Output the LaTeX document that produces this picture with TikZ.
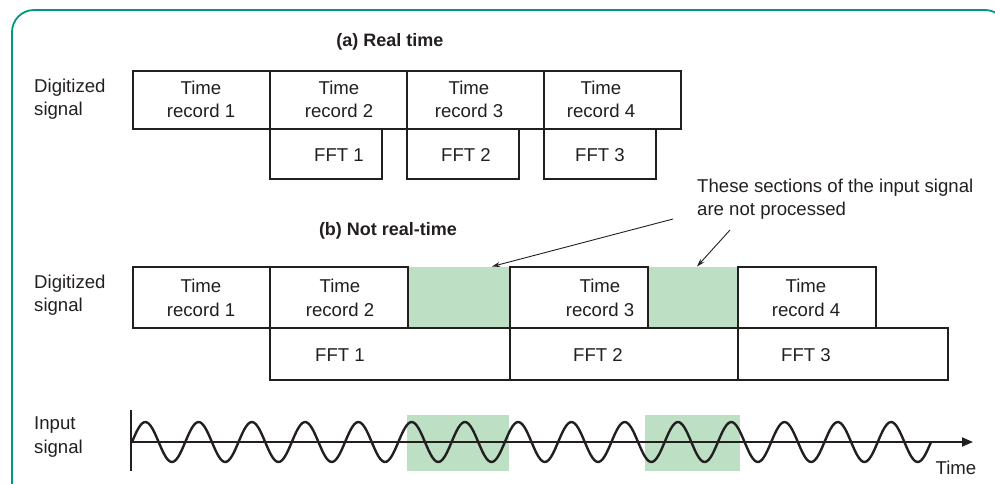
\documentclass[tikz,border=0pt]{standalone}
\usepackage{fontspec}
\setmainfont{Liberation Sans}
\usetikzlibrary{arrows.meta}
\definecolor{frameteal}{HTML}{00997F}
\definecolor{skipgreen}{HTML}{BDE0C5}
\definecolor{ink}{HTML}{231F20}
\tikzset{
  txt/.style={font=\fontsize{18.6}{23.5}\selectfont, text=ink, align=center, inner sep=0pt},
  ttl/.style={font=\fontsize{18}{23}\selectfont\bfseries, text=ink, inner sep=0pt},
  sidelbl/.style={font=\fontsize{18.6}{23.5}\selectfont, text=ink, align=left, anchor=west, inner sep=0pt},
  box/.style={draw=ink, line width=1.6pt, rectangle, inner sep=0pt},
  gap/.style={fill=skipgreen, draw=none, rectangle, inner sep=0pt},
  note/.style={draw=ink, line width=0.9pt, -{Stealth[length=8pt,width=5pt]}},
  wave/.style={draw=ink, line width=2.4pt},
  axisline/.style={draw=ink, line width=1.8pt},
}
\begin{document}
\begin{tikzpicture}[x=1pt,y=-1pt]
\useasboundingbox (0,0) rectangle (995,483);
\begin{scope}
\clip (0,0) rectangle (995,483);
\draw[frameteal, line width=1.8pt, rounded corners=22pt] (12,10) rectangle (1007,505);
\end{scope}

% (a) Real time
\node[ttl] (ta) at (390,42) {(a) Real time};
\node[sidelbl] (dla) at (34,99) {Digitized\\signal};
\node[box, minimum width=137pt, minimum height=58pt] (a1) at (201.5,100) {};
\node[box, minimum width=137pt, minimum height=58pt] (a2) at (338.5,100) {};
\node[box, minimum width=137pt, minimum height=58pt] (a3) at (475.5,100) {};
\node[box, minimum width=137pt, minimum height=58pt] (a4) at (612.5,100) {};
\node[txt] (a1t) at (201,99.5) {Time\\record 1};
\node[txt] (a2t) at (339,99.5) {Time\\record 2};
\node[txt] (a3t) at (469,99.5) {Time\\record 3};
\node[txt] (a4t) at (601,99.5) {Time\\record 4};
\node[box, minimum width=112pt, minimum height=50pt] (fa1) at (326,154) {};
\node[box, minimum width=112pt, minimum height=50pt] (fa2) at (463,154) {};
\node[box, minimum width=112pt, minimum height=50pt] (fa3) at (600,154) {};
\node[txt] (fa1t) at (339,155) {FFT 1};
\node[txt] (fa2t) at (466,155) {FFT 2};
\node[txt] (fa3t) at (600,155) {FFT 3};

% (b) Not real-time
\node[ttl] (tb) at (388,231) {(b) Not real-time};
\node[sidelbl] (dlb) at (34,295) {Digitized\\signal};
\node[gap, minimum width=102pt, minimum height=61pt] (g1) at (459,297.5) {};
\node[gap, minimum width=90pt, minimum height=61pt] (g2) at (693,297.5) {};
\node[box, minimum width=137pt, minimum height=61pt] (b1) at (201.5,297.5) {};
\node[box, minimum width=138pt, minimum height=61pt] (b2) at (339,297.5) {};
\node[box, minimum width=138pt, minimum height=61pt] (b3) at (579,297.5) {};
\node[box, minimum width=138pt, minimum height=61pt] (b4) at (807,297.5) {};
\node[txt] (b1t) at (201,298) {Time\\record 1};
\node[txt] (b2t) at (340,298) {Time\\record 2};
\node[txt] (b3t) at (600,298) {Time\\record 3};
\node[txt] (b4t) at (806,298) {Time\\record 4};
\node[box, minimum width=240pt, minimum height=52pt] (fb1) at (390,354) {};
\node[box, minimum width=228pt, minimum height=52pt] (fb2) at (624,354) {};
\node[box, minimum width=210pt, minimum height=52pt] (fb3) at (843,354) {};
\node[txt] (fb1t) at (340,355) {FFT 1};
\node[txt] (fb2t) at (598,355) {FFT 2};
\node[txt] (fb3t) at (806,355) {FFT 3};

% annotation
\node[sidelbl] (nt) at (697,199) {These sections of the input signal\\are not processed};
\coordinate (n1s) at (673,219);
\coordinate (n2s) at (730,230);
\coordinate (n1e) at (492,266.5);
\coordinate (n2e) at (697,266.5);
\draw[note] (n1s) -- (n1e);
\draw[note] (n2s) -- (n2e);

% input signal
\node[sidelbl] (isl) at (34,437) {Input\\signal};
\node[gap, minimum width=102pt, minimum height=56pt] (w1) at (458,443) {};
\node[gap, minimum width=95pt, minimum height=56pt] (w2) at (692.5,443) {};
\coordinate (o) at (131,442);
\coordinate (yt) at (131,410);
\coordinate (yb) at (131,471);
\coordinate (xe) at (973,442);
\draw[axisline] (yt) -- (yb);
\draw[axisline, -{Triangle[length=11pt,width=9pt]}] (o) -- (xe);
\draw[wave, line join=round] plot[domain=132:931, samples=400, smooth] (\x, {442 - 20*sin((\x-132)*6.7584)});
\node[txt] (tl) at (956,468) {Time};
\end{tikzpicture}
\end{document}
